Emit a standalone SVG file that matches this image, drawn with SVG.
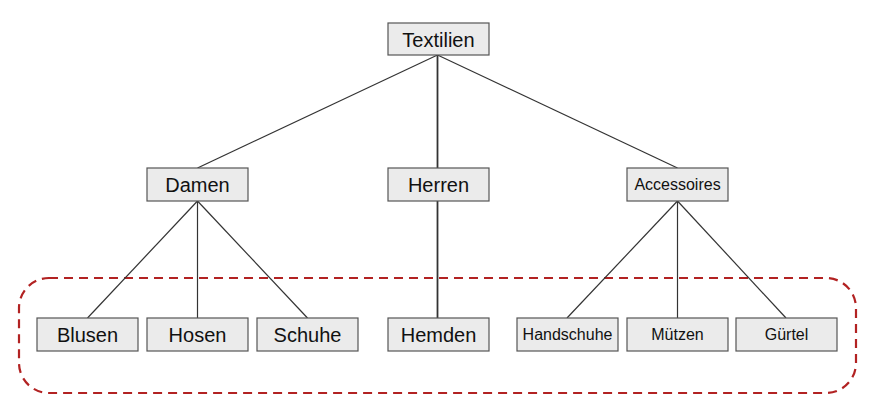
<svg xmlns="http://www.w3.org/2000/svg" width="875" height="420" viewBox="0 0 875 420">
<style>
.box rect{fill:#ebebeb;stroke:#555;stroke-width:1.2}
.box text{font-family:"Liberation Sans",Arial,sans-serif;fill:#111;text-anchor:middle;dominant-baseline:central}
.big{font-size:20px}
.small{font-size:16px}
#connectors line{stroke:#333;stroke-width:1.2}
#connectors line.v{stroke-width:1.8}
.group{fill:none;stroke:#b22222;stroke-width:2.2;stroke-dasharray:9 6}
</style>
<rect width="875" height="420" fill="#fff"/>
<rect class="group" x="19" y="278" width="837" height="115" rx="30" ry="30"/>
<g id="connectors">
<line x1="437.5" y1="55" x2="197.5" y2="168"/>
<line class="v" x1="437.5" y1="55" x2="437.5" y2="168"/>
<line x1="437.5" y1="55" x2="677.5" y2="168"/>
<line x1="197.5" y1="201" x2="87.5" y2="318"/>
<line x1="197.5" y1="201" x2="197.5" y2="318"/>
<line x1="197.5" y1="201" x2="307.5" y2="318"/>
<line class="v" x1="437.5" y1="201" x2="437.5" y2="318"/>
<line x1="677.5" y1="201" x2="567" y2="318"/>
<line x1="677.5" y1="201" x2="677.5" y2="318"/>
<line x1="677.5" y1="201" x2="786" y2="318"/>
</g>
<g id="textilien" class="box"><rect x="388" y="23" width="101" height="32"/><text class="big" x="438.5" y="39.5">Textilien</text></g>
<g id="damen" class="box"><rect x="147" y="168" width="101" height="33"/><text class="big" x="197.5" y="184.5">Damen</text></g>
<g id="herren" class="box"><rect x="388" y="168" width="101" height="33"/><text class="big" x="438.5" y="184.5">Herren</text></g>
<g id="accessoires" class="box"><rect x="627" y="168" width="101" height="33"/><text class="small" x="677.5" y="184.5">Accessoires</text></g>
<g id="blusen" class="box"><rect x="37" y="318" width="101" height="33"/><text class="big" x="87.5" y="334.5">Blusen</text></g>
<g id="hosen" class="box"><rect x="147" y="318" width="101" height="33"/><text class="big" x="197.5" y="334.5">Hosen</text></g>
<g id="schuhe" class="box"><rect x="257" y="318" width="101" height="33"/><text class="big" x="307.5" y="334.5">Schuhe</text></g>
<g id="hemden" class="box"><rect x="388" y="318" width="101" height="33"/><text class="big" x="438.5" y="334.5">Hemden</text></g>
<g id="handschuhe" class="box"><rect x="517" y="318" width="101" height="33"/><text class="small" x="567.5" y="334.5">Handschuhe</text></g>
<g id="muetzen" class="box"><rect x="627" y="318" width="101" height="33"/><text class="small" x="677.5" y="334.5">Mützen</text></g>
<g id="guertel" class="box"><rect x="736" y="318" width="101" height="33"/><text class="small" x="786.5" y="334.5">Gürtel</text></g>
</svg>
